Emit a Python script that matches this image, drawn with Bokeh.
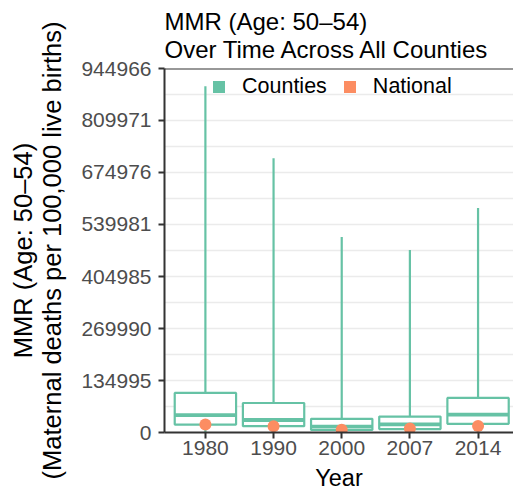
import numpy as np
from bokeh.plotting import figure
from bokeh.models import (Range1d, FixedTicker, Span, Legend, LegendItem,
                          ColumnDataSource)
from bokeh.embed import file_html
from bokeh.resources import INLINE

# ---- data ----
years = ["1980", "1990", "2000", "2007", "2014"]
county_min = [1500, 1200, 500, 800, 1600]
county_q1 = [20700, 16300, 6500, 9000, 22500]
county_median = [45300, 32400, 15500, 21000, 46600]
county_q3 = [102800, 76600, 35500, 41400, 89800]
county_max = [899200, 712000, 507400, 473800, 582500]
national = [20700, 16300, 7000, 10400, 17000]
y_ticks = [0, 134995, 269990, 404985, 539981, 674976, 809971, 944966]

GREEN = "#66C2A5"
ORANGE = "#FC8D62"
FONT = "Liberation Sans"

xpos = list(range(1, len(years) + 1))
half = 0.45
src = ColumnDataSource(dict(
    x=xpos,
    left=[v - half for v in xpos],
    right=[v + half for v in xpos],
    q1=county_q1, med=county_median, q3=county_q3,
    lo=county_min, hi=county_max, nat=national,
))

p = figure(width=513, height=493, output_backend="svg", toolbar_location=None,
           x_range=Range1d(0.4, 5.52), y_range=Range1d(y_ticks[0], y_ticks[-1]),
           min_border_left=164, min_border_right=0,
           min_border_top=68, min_border_bottom=60)
p.background_fill_color = "white"
p.border_fill_color = "white"
p.outline_line_color = None

# whiskers
p.segment(x0="x", y0="q3", x1="x", y1="hi", source=src, line_color=GREEN, line_width=2.2)
p.segment(x0="x", y0="lo", x1="x", y1="q1", source=src, line_color=GREEN, line_width=2.2)
# boxes
p.quad(left="left", right="right", bottom="q1", top="q3", source=src,
       fill_color="white", line_color=GREEN, line_width=2.2)
# medians
p.segment(x0="left", y0="med", x1="right", y1="med", source=src,
          line_color=GREEN, line_width=3.8)
# national points
p.scatter(x="x", y="nat", source=src, size=12, fill_color=ORANGE, line_color=None)

# legend proxies (draw nothing)
proxy = ColumnDataSource(dict(l=[np.nan], r=[np.nan], t=[np.nan], b=[np.nan]))
r_c = p.quad(left="l", right="r", top="t", bottom="b", source=proxy,
             fill_color=GREEN, line_color=None)
r_n = p.quad(left="l", right="r", top="t", bottom="b", source=proxy,
             fill_color=ORANGE, line_color=None)
legend = Legend(items=[LegendItem(label="Counties", renderers=[r_c]),
                       LegendItem(label="National", renderers=[r_n])],
                orientation="horizontal", location=(47, 333),
                background_fill_alpha=0, border_line_color=None,
                padding=0, margin=0, spacing=15, label_standoff=16,
                glyph_width=15, glyph_height=15,
                label_text_font=FONT, label_text_font_size="21.5px",
                label_text_color="black")
p.add_layout(legend)

# top border line
p.add_layout(Span(location=y_ticks[-1], dimension="width",
                  line_color="#333333", line_width=2))

# axes
p.xaxis.ticker = FixedTicker(ticks=xpos)
p.xaxis.major_label_overrides = {x: y for x, y in zip(xpos, years)}
mids = [(a + b) / 2 for a, b in zip(y_ticks[:-1], y_ticks[1:])]
p.yaxis.ticker = FixedTicker(ticks=y_ticks, minor_ticks=mids)
p.yaxis.major_label_overrides = {t: str(t) for t in y_ticks}

for ax in (p.xaxis[0], p.yaxis[0]):
    ax.axis_line_color = "#333333"
    ax.axis_line_width = 2
    ax.major_tick_line_color = "#333333"
    ax.major_tick_line_width = 2
    ax.major_tick_in = 0
    ax.major_tick_out = 6
    ax.minor_tick_line_color = None
    ax.major_label_text_font = FONT
    ax.major_label_text_font_size = "21px"
    ax.major_label_text_color = "#4D4D4D"
    ax.axis_label_text_font = FONT
    ax.axis_label_text_font_style = "normal"
    ax.axis_label_text_color = "black"

p.xaxis.major_label_standoff = 2
p.xaxis.axis_label = "Year"
p.xaxis.axis_label_text_font_size = "23.5px"
p.xaxis.axis_label_standoff = 7

p.yaxis.major_label_standoff = 7
p.yaxis.axis_label = "MMR (Age: 50\u201354)\n(Maternal deaths per 100,000 live births)"
p.yaxis.axis_label_text_font_size = "25.5px"
p.yaxis.axis_label_text_line_height = 1.05
p.yaxis.axis_label_standoff = 12

p.xgrid.grid_line_color = None
p.ygrid.grid_line_color = "#EBEBEB"
p.ygrid.grid_line_width = 1.3
p.ygrid.minor_grid_line_color = "#EBEBEB"
p.ygrid.minor_grid_line_width = 1.3

p.title.text = "MMR (Age: 50\u201354)\nOver Time Across All Counties"
p.title.text_font = FONT
p.title.text_font_size = "24px"
p.title.text_font_style = "normal"
p.title.text_color = "black"
p.title.text_line_height = 1.05
p.title.align = "left"
p.title.standoff = 11

open("out.html", "w").write(file_html(p, INLINE))
